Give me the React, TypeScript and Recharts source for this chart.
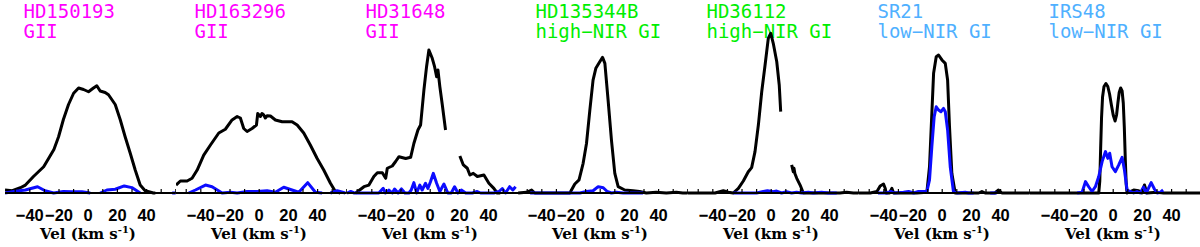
import { LineChart, Line, XAxis, YAxis } from 'recharts'

type Pt = [number, number | null]

// velocity range shown in every panel (km/s) and tick positions
const velDomain: [number, number] = [-57, 60]
const velTicks = [-50, -40, -30, -20, -10, 0, 10, 20, 30, 40, 50, 60]
const labelledTicks = [-40, -20, 0, 20, 40]

const starNames = ['HD150193', 'HD163296', 'HD31648', 'HD135344B', 'HD36112', 'SR21', 'IRS48']
const groupNames = ['GII', 'GII', 'GII', 'high\u2212NIR GI', 'high\u2212NIR GI', 'low\u2212NIR GI', 'low\u2212NIR GI']
const groupColors = ['#ff00ff', '#ff00ff', '#ff00ff', '#00ee00', '#00ee00', '#4fb0ff', '#4fb0ff']

// [velocity, normalised flux]; null = gap in the spectrum
const hd150193Black: Pt[] = [[-57, 0.02], [-52, 0.015], [-46.5, 0.035], [-43, 0.053], [-37.5, 0.11], [-30.5, 0.175], [-23.5, 0.29], [-20.3, 0.375], [-17, 0.49], [-13.5, 0.59], [-10, 0.665], [-6.6, 0.7], [-3.2, 0.69], [0.2, 0.675], [3.6, 0.7], [5.9, 0.715], [8.2, 0.68], [11.6, 0.67], [13.9, 0.655], [18.5, 0.59], [21.9, 0.49], [25.3, 0.375], [28.8, 0.265], [32.2, 0.153], [35.6, 0.053], [39, 0.015], [44.7, 0], [46, 0]]
const hd150193Blue: Pt[] = [[-57, 0], [-51, 0.01], [-43, 0.02], [-34.7, 0.042], [-29.5, 0.015], [-23.7, 0], [-17, 0.01], [-11.2, 0.008], [-4.3, 0.008], [1.4, 0], [4.8, null], [8.2, 0], [12.8, 0.02], [18.5, 0.025], [24.7, 0.047], [29.9, 0.036], [35.6, 0], [46, null], [57.5, 0], [60, 0]]

const hd163296Black: Pt[] = [[-57, 0.053], [-54, 0.08], [-49.4, 0.08], [-46, 0.098], [-42.5, 0.153], [-38, 0.253], [-33.4, 0.32], [-27.7, 0.4], [-23.2, 0.425], [-18.6, 0.487], [-15.1, 0.51], [-12.9, 0.5], [-10.6, 0.43], [-8.3, 0.41], [-4.9, 0.43], [-1.9, 0.453], [-1, 0.53], [0.8, 0.51], [1.9, 0.53], [3.1, 0.52], [4.2, 0.5], [5.4, 0.515], [7.7, 0.513], [11.1, 0.487], [15.7, 0.475], [22.5, 0.475], [26, 0.453], [30.5, 0.4], [35, 0.32], [39.7, 0.23], [44.2, 0.153], [48.8, 0.065], [52.2, 0.01], [55.6, 0]]
const hd163296Blue: Pt[] = [[-48.3, 0], [-43.7, 0.02], [-36.8, 0.053], [-32.3, 0.042], [-25.4, 0], [-19.7, 0.005], [-15.1, 0], [-8.3, 0.01], [-1.4, 0.01], [5.4, 0.015], [11.1, 0.005], [16.8, 0.038], [27.1, 0.005], [33.2, 0.069], [38.5, 0.005], [43.1, 0], [46, null], [48.8, 0], [53.4, 0.015], [59, 0]]

const hd31648Black: Pt[] = [[-51, 0], [-45.4, 0.042], [-42, 0.053], [-38.6, 0.11], [-36.2, 0.135], [-32.8, 0.135], [-30.5, 0.098], [-29.4, 0.165], [-26, 0.18], [-23.7, 0.21], [-21.4, 0.242], [-16.8, 0.23], [-13.4, 0.238], [-11.2, 0.33], [-8.4, 0.42], [-6.6, 0.453], [-4.3, 0.687], [-2.5, 0.842], [-0.9, 0.953], [1.4, 0.898], [3, 0.842], [4.4, 0.775], [5.3, 0.82], [6.6, 0.709], [8.3, 0.587], [10.5, 0.42], [15, null], [20.3, 0.247], [22.7, 0.187], [25.4, 0.165], [27.2, 0.12], [29.5, 0.131], [32.3, 0.11], [36.8, 0.12], [40.2, 0.065], [43.6, 0.031], [45.9, 0], [48, 0]]
const hd31648Blue: Pt[] = [[-57, 0], [-54.5, 0.01], [-52, 0], [-48.5, 0], [-45.4, 0], [-39.7, 0], [-35.2, 0], [-32.2, 0.031], [-30.6, 0], [-28.3, 0.02], [-26, 0], [-24.4, 0.027], [-22, 0], [-19.7, 0.027], [-17.3, 0], [-14.6, 0], [-13, 0.02], [-11.2, 0.069], [-9.3, 0], [-7.1, 0.053], [-5.5, 0.02], [-3.2, 0.065], [-1.6, 0.03], [0.2, 0.075], [2.1, 0.131], [4.4, 0.065], [6.6, 0.01], [9.4, 0.06], [12.1, 0], [14.4, 0], [16.7, 0.042], [19, 0], [21.3, 0.02], [24.3, 0], [28.8, 0], [32.2, 0.01], [34.5, 0], [39.1, 0], [43.6, 0], [47.1, 0.01], [49.4, 0.03], [51.6, 0], [54.4, 0.042], [56.6, 0.02], [58.5, 0.042]]

const hd135344bBlack: Pt[] = [[-56.2, 0], [-50.5, 0.005], [-47, 0.02], [-44.8, 0], [-39, 0], [-30, 0], [-20.8, 0], [-17.4, 0.06], [-14.5, 0.087], [-11.7, 0.198], [-9.4, 0.33], [-7.1, 0.553], [-4.9, 0.753], [-3, 0.831], [-0.3, 0.875], [1.6, 0.904], [3.2, 0.864], [5.4, 0.62], [7.7, 0.353], [10, 0.131], [12.3, 0.042], [16.8, 0.02], [22.5, 0.015], [27, 0.01], [31.6, 0], [38.4, 0.005], [45.3, 0], [52.1, 0.005], [56.6, 0], [60, 0]]
const hd135344bBlue: Pt[] = [[-48, 0], [-36, 0], [-20.8, 0], [-13.9, 0], [-9.4, 0.01], [-4.9, 0.015], [-1.4, 0.042], [2.1, 0.035], [4.8, 0.01], [7.7, 0], [11.1, 0.005], [15.7, 0], [20.3, 0], [29.4, 0]]

const hd36112Black: Pt[] = [[-57, 0], [-48.9, 0], [-41.9, 0], [-38.5, 0], [-32.8, 0.015], [-29.4, 0.005], [-26, 0], [-22.5, 0.031], [-19.1, 0.08], [-15.7, 0.142], [-13.4, 0.169], [-11.1, 0.276], [-8.8, 0.453], [-6.5, 0.675], [-4.2, 0.853], [-2, 1.031], [-0.3, 1.065], [1.4, 0.998], [3.8, 0.875], [5.5, 0.72], [6.5, 0.542], [10, null], [14, 0.187], [15.1, 0.142], [15.6, 0.165], [16.2, 0.13], [17.5, 0.098], [19.8, 0.053], [22, 0], [28.8, 0], [38, 0], [47, 0], [51.7, 0.005], [56.3, 0], [60, 0]]
const hd36112Blue: Pt[] = [[-26, 0], [-20, 0], [-14.5, 0], [-10, 0], [-5.4, 0.01], [-2.6, 0.015], [1.4, 0.008], [3.7, 0.013], [7.1, 0], [10.5, 0.008], [14, 0], [17.4, 0.005], [20.8, 0], [25.4, 0.005], [28.8, 0], [34.5, 0.005], [39, 0], [44.9, 0]]

const sr21Black: Pt[] = [[-57, 0], [-49.3, 0], [-44.7, 0.01], [-42.5, 0.047], [-40.2, 0.06], [-39, 0.03], [-38.4, 0], [-36.1, 0], [-34.5, 0.031], [-33.3, 0], [-26.5, 0], [-17.4, 0], [-10.5, 0.005], [-8.7, 0.175], [-7.1, 0.531], [-5.9, 0.798], [-4.1, 0.909], [-2.5, 0.92], [-0.2, 0.887], [2.1, 0.864], [3.7, 0.753], [5, 0.442], [6.6, 0.131], [8.9, 0], [16.9, 0], [25, 0], [27.2, 0.01], [29.4, 0], [36, 0], [38.6, 0.02], [40.9, 0], [51.1, 0], [60, 0]]
const sr21Blue: Pt[] = [[-44, 0], [-38, 0], [-35, 0.01], [-33, 0], [-26.5, 0.005], [-23, 0.01], [-19.5, 0], [-16.3, 0.01], [-10.5, 0.01], [-8.7, 0.087], [-7.1, 0.309], [-5.5, 0.509], [-4.1, 0.575], [-2.5, 0.553], [-0.9, 0.542], [0.9, 0.564], [2.1, 0.542], [3.7, 0.42], [5.5, 0.175], [7.7, 0.01], [10, 0], [15.8, 0.005], [18, 0], [21.5, 0], [27, null], [32.9, 0], [37.4, 0]]

const irs48Black: Pt[] = [[-57, 0], [-40, 0], [-17.9, 0], [-9.9, 0], [-9.2, 0.08], [-8.6, 0.3], [-8, 0.5], [-7.3, 0.64], [-6.3, 0.71], [-5, 0.73], [-3.7, 0.71], [-2.5, 0.66], [-1.3, 0.59], [0, 0.52], [1.3, 0.48], [2.3, 0.52], [3.2, 0.6], [4.1, 0.67], [5.1, 0.7], [6.1, 0.68], [6.9, 0.6], [7.6, 0.44], [8.3, 0.22], [8.9, 0.06], [9.5, 0], [14, 0.02], [17.4, 0.015], [19.7, 0], [21.4, 0.053], [23.1, 0], [29.9, 0.005], [34.5, 0], [60, 0]]
const irs48Blue: Pt[] = [[-24.7, 0], [-21.3, 0.005], [-19, 0.076], [-16.7, 0.04], [-14.5, 0.01], [-12.2, 0.042], [-9.9, 0.11], [-7.6, 0.209], [-5.3, 0.276], [-3.7, 0.231], [-2.4, 0.265], [-0.8, 0.175], [1.5, 0.142], [3.8, 0.187], [6.1, 0.238], [7.7, 0.153], [9.5, 0.02], [11.8, 0.01], [14, 0], [16.3, 0.01], [18.5, 0], [20.8, 0.04], [22.6, 0], [26, 0.069], [28.3, 0.025], [30.1, 0], [32.4, 0.005], [34.2, 0.02]]

const blackSeries = [hd150193Black, hd163296Black, hd31648Black, hd135344bBlack, hd36112Black, sr21Black, irs48Black]
const blueSeries = [hd150193Blue, hd163296Blue, hd31648Blue, hd135344bBlue, hd36112Blue, sr21Blue, irs48Blue]

const PANEL_W = 170.8
const HEIGHT = 247

const toRows = (pts: Pt[]) => pts.map(([v, f]) => ({ v, f }))

function VelTick({ x, y, payload }: any) {
  const val = payload.value as number
  const showLabel = labelledTicks.includes(val)
  return (
    <g>
      <line x1={x} x2={x} y1={y} y2={y - 4} stroke="#000" strokeWidth={1.2} />
      {showLabel && (
        <text
          x={x}
          y={y + 28.5}
          textAnchor="middle"
          fontFamily="Liberation Sans"
          fontWeight="bold"
          fontSize={16.5}
          fill="#000"
        >
          {val < 0 ? `\u2212${Math.abs(val)}` : `${val}`}
        </text>
      )}
    </g>
  )
}

function Panel({ i }: { i: number }) {
  return (
    <div style={{ position: 'absolute', left: 5 + PANEL_W * i, top: 0 }}>
      <LineChart width={PANEL_W} height={HEIGHT} margin={{ top: 28, right: 0, bottom: 0, left: 0 }}>
        <XAxis
          dataKey="v"
          type="number"
          domain={velDomain}
          ticks={velTicks}
          allowDataOverflow
          height={54}
          tickSize={0}
          tickMargin={0}
          tickLine={false}
          axisLine={{ stroke: '#000', strokeWidth: 2 }}
          tick={<VelTick />}
          interval={0}
        />
        <YAxis hide domain={[0, 1.1]} type="number" />
        <Line data={toRows(blackSeries[i])} dataKey="f" stroke="#000" strokeWidth={3} dot={false} activeDot={false} isAnimationActive={false} strokeLinejoin="round" />
        <Line data={toRows(blueSeries[i])} dataKey="f" stroke="#0c0cff" strokeWidth={3} dot={false} activeDot={false} isAnimationActive={false} strokeLinejoin="round" />
        <text x={18.5} y={18.5} fontFamily="DejaVu Sans Mono" fontSize={19} fill={groupColors[i]}>
          {starNames[i]}
        </text>
        <text x={18.5} y={38.5} fontFamily="DejaVu Sans Mono" fontSize={19} fill={groupColors[i]}>
          {groupNames[i]}
        </text>
        <text x={83} y={239.5} textAnchor="middle" fontFamily="DejaVu Serif" fontWeight="bold" fontSize={15} fill="#000">
          Vel (km s<tspan dy={-6} fontSize={10}>-1</tspan><tspan dy={6}>)</tspan>
        </text>
      </LineChart>
    </div>
  )
}

export default function App() {
  return (
    <div style={{ position: 'absolute', left: 0, top: 0, width: 1200, height: HEIGHT, background: '#fff', overflow: 'hidden' }}>
      {starNames.map((_, i) => (
        <Panel key={i} i={i} />
      ))}
    </div>
  )
}
